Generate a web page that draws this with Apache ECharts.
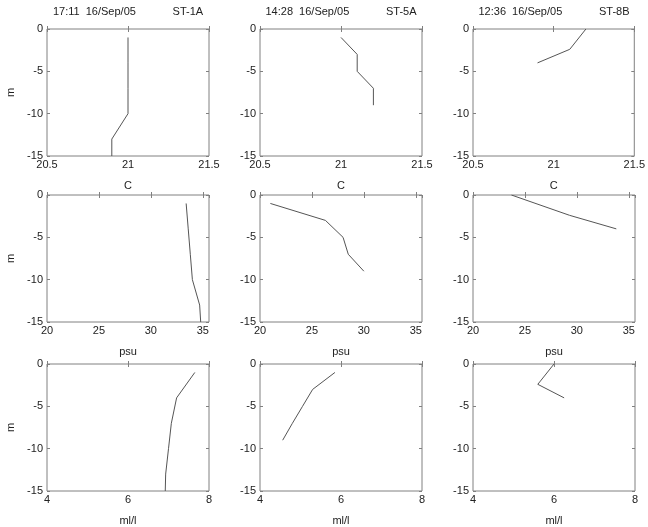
<!DOCTYPE html>
<html>
<head>
<meta charset="utf-8">
<script src="https://cdn.jsdelivr.net/npm/echarts@6/dist/echarts.min.js"></script>
<style>
html,body{margin:0;padding:0;background:#fff;}
#chart{width:648px;height:527px;}
</style>
</head>
<body>
<div id="chart"></div>
<script>
// ---- data ----
const stations = ['ST-1A', 'ST-5A', 'ST-8B'];
const times = ['17:11', '14:28', '12:36'];
const dates = ['16/Sep/05', '16/Sep/05', '16/Sep/05'];

const depthST1A = [-1, -4, -7, -10, -13, -15];
const tempST1A  = [21.0, 21.0, 21.0, 21.0, 20.9, 20.9];
const salST1A   = [33.4, 33.6, 33.8, 34.0, 34.7, 34.8];
const oxyST1A   = [7.65, 7.2, 7.07, 7.0, 6.93, 6.92];

const depthST5A = [-1, -3, -5, -7, -9];
const tempST5A  = [21.0, 21.1, 21.1, 21.2, 21.2];
const salST5A   = [21.0, 26.3, 28.0, 28.5, 30.0];
const oxyST5A   = [5.85, 5.3, 5.05, 4.8, 4.56];

const depthST8B = [0, -2.4, -4];
const tempST8B  = [21.2, 21.1, 20.9];
const salST8B   = [23.7, 29.3, 33.8];
const oxyST8B   = [6.0, 5.6, 6.25];

const units = ['C', 'psu', 'ml/l'];
const xTicksC   = [20.5, 21, 21.5];
const xTicksPsu = [20, 25, 30, 35];
const xTicksOxy = [4, 6, 8];
const xMaxPsu = 35.6;
const yTicks = [-15, -10, -5, 0];
const depthUnit = 'm';

// ---- build ----
const depths = [depthST1A, depthST5A, depthST8B];
const values = [
  [tempST1A, tempST5A, tempST8B],
  [salST1A, salST5A, salST8B],
  [oxyST1A, oxyST5A, oxyST8B]
];
const xTicks = [xTicksC, xTicksPsu, xTicksOxy];
const xMax = [xTicksC[xTicksC.length - 1], xMaxPsu, xTicksOxy[xTicksOxy.length - 1]];

const colLeft = [47, 260, 473];
const rowTop = [29, 195, 364];
const W = 162, H = 127;
const FONT = 'Liberation Sans, Arial, Helvetica, sans-serif';
const TXT = '#222';
const BOX = '#808080';

const grids = [], xAxes = [], yAxes = [], series = [], titles = [];

for (let c = 0; c < 3; c++) {
  titles.push({
    text: times[c] + '  ' + dates[c] + '            ' + stations[c],
    left: colLeft[c] + W / 2,
    top: 6,
    padding: 0,
    textAlign: 'center',
    textStyle: {fontSize: 11, fontWeight: 'normal', color: TXT, fontFamily: FONT}
  });
}

for (let r = 0; r < 3; r++) {
  for (let c = 0; c < 3; c++) {
    const gi = grids.length;
    grids.push({
      left: colLeft[c], top: rowTop[r], width: W, height: H,
      show: true, borderColor: BOX, borderWidth: 1, backgroundColor: '#fff',
      containLabel: false
    });
    const tk = xTicks[r];
    const interval = tk[1] - tk[0];
    const xBase = {
      type: 'value', gridIndex: gi, min: tk[0], max: xMax[r], interval: interval,
      axisLine: {show: false},
      axisTick: {show: true, inside: true, length: 3, lineStyle: {color: BOX}},
      splitLine: {show: false}
    };
    xAxes.push(Object.assign({}, xBase, {
      position: 'bottom',
      name: units[r], nameLocation: 'middle', nameGap: 24,
      nameTextStyle: {fontSize: 11, color: TXT, fontFamily: FONT},
      axisLabel: {show: true, margin: 3, fontSize: 11, color: TXT, fontFamily: FONT,
        showMinLabel: true, showMaxLabel: xMax[r] === tk[tk.length - 1]}
    }));
    xAxes.push(Object.assign({}, xBase, {
      position: 'top', axisLabel: {show: false}
    }));
    const yBase = {
      type: 'value', gridIndex: gi, min: yTicks[0], max: yTicks[yTicks.length - 1],
      interval: yTicks[1] - yTicks[0],
      axisLine: {show: false},
      axisTick: {show: true, inside: true, length: 3, lineStyle: {color: BOX}},
      splitLine: {show: false}
    };
    yAxes.push(Object.assign({}, yBase, {
      position: 'left',
      name: c === 0 ? depthUnit : '', nameLocation: 'middle', nameGap: 31,
      nameTextStyle: {fontSize: 11, color: TXT, fontFamily: FONT},
      axisLabel: {show: true, margin: 4, fontSize: 11, color: TXT, fontFamily: FONT,
        showMinLabel: true, showMaxLabel: true}
    }));
    yAxes.push(Object.assign({}, yBase, {
      position: 'right', axisLabel: {show: false}
    }));
    const d = depths[c], v = values[r][c];
    series.push({
      type: 'line',
      xAxisIndex: 2 * gi, yAxisIndex: 2 * gi,
      data: v.map((x, i) => [x, d[i]]),
      showSymbol: false, symbol: 'none',
      lineStyle: {color: '#555', width: 1},
      silent: true, animation: false
    });
  }
}

const chart = echarts.init(document.getElementById('chart'), null, {renderer: 'canvas'});
chart.setOption({
  backgroundColor: '#fff',
  animation: false,
  title: titles,
  grid: grids,
  xAxis: xAxes,
  yAxis: yAxes,
  series: series
});
</script>
</body>
</html>
